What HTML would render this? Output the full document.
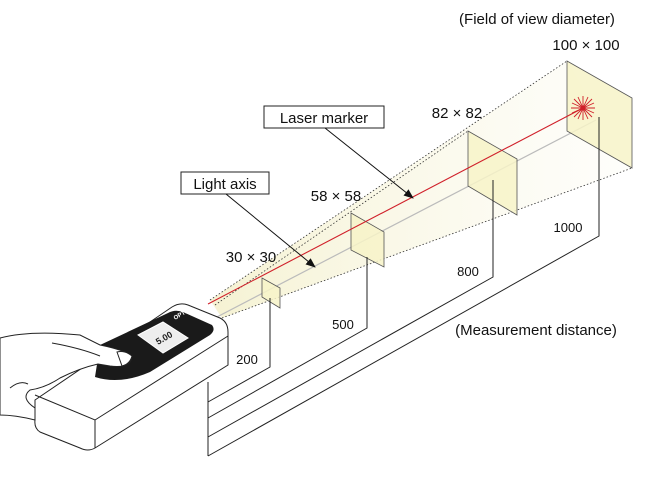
<!DOCTYPE html>
<html><head><meta charset="utf-8"><style>
html,body{margin:0;padding:0;background:#fff;}
svg{display:block;}
text{font-family:"Liberation Sans",sans-serif;fill:#111;}
</style></head><body>
<svg width="650" height="480" viewBox="0 0 650 480" xmlns="http://www.w3.org/2000/svg">
<defs>
<linearGradient id="beam" x1="0" y1="0" x2="1" y2="0">
<stop offset="0" stop-color="#f3efc8" stop-opacity="0.8"/>
<stop offset="1" stop-color="#f7f4dc" stop-opacity="0.1"/>
</linearGradient>
<marker id="ah" markerWidth="10" markerHeight="8" refX="9" refY="4" orient="auto" markerUnits="userSpaceOnUse">
<path d="M0,0 L10,4 L0,8 z" fill="#111"/>
</marker>
</defs>
<polygon points="210,300 567,61 632,168 222,318" fill="url(#beam)"/>
<g stroke="#333" stroke-width="0.8" stroke-dasharray="1.5,2" fill="none">
<line x1="210" y1="300" x2="567" y2="61"/>
<line x1="222" y1="318" x2="632" y2="168"/>
<line x1="215" y1="305" x2="468" y2="131"/>
</g>
<line x1="215" y1="318" x2="596" y2="120" stroke="#bbb" stroke-width="1.2"/>
<g fill="#f7f3c8" fill-opacity="0.85" stroke="#555" stroke-width="0.8">
<polygon points="262,278 280,288 280,308 262,297"/>
<polygon points="351,213 384,232 384,267 351,250"/>
<polygon points="468,131 517,159 517,215 468,186"/>
<polygon points="567,61 632,98 632,168 567,131"/>
</g>
<line x1="208" y1="304" x2="583" y2="108" stroke="#d0202a" stroke-width="1.1"/>
<g stroke="#d0202a" stroke-width="0.9">
<line x1="571" y1="108" x2="595" y2="108"/><line x1="583" y1="96" x2="583" y2="120"/>
<line x1="574" y1="99" x2="592" y2="117"/><line x1="574" y1="117" x2="592" y2="99"/>
<line x1="572" y1="103" x2="594" y2="113"/><line x1="572" y1="113" x2="594" y2="103"/>
<line x1="578" y1="97" x2="588" y2="119"/><line x1="588" y1="97" x2="578" y2="119"/>
</g>
<circle cx="583" cy="108" r="2.5" fill="#d0202a"/>
<g stroke="#222" stroke-width="1" fill="none">
<polyline points="270,298 270,367 208,402"/>
<polyline points="367,257 367,328 208,418"/>
<polyline points="493,180 493,277 208,437"/>
<polyline points="599,117 599,236 208,456"/>
<line x1="208" y1="382" x2="208" y2="456"/>
</g>
<rect x="264" y="106" width="120" height="22" fill="#fff" stroke="#222" stroke-width="1"/>
<text x="324" y="123" font-size="15" text-anchor="middle">Laser marker</text>
<line x1="325" y1="128" x2="413" y2="198" stroke="#111" stroke-width="1" marker-end="url(#ah)"/>
<rect x="181" y="172" width="88" height="22" fill="#fff" stroke="#222" stroke-width="1"/>
<text x="225" y="189" font-size="15" text-anchor="middle">Light axis</text>
<line x1="226" y1="194" x2="315" y2="267" stroke="#111" stroke-width="1" marker-end="url(#ah)"/>
<text x="537" y="24" font-size="15" text-anchor="middle">(Field of view diameter)</text>
<text x="586" y="50" font-size="15" text-anchor="middle">100 × 100</text>
<text x="457" y="118" font-size="15" text-anchor="middle">82 × 82</text>
<text x="336" y="201" font-size="15" text-anchor="middle">58 × 58</text>
<text x="251" y="262" font-size="15" text-anchor="middle">30 × 30</text>
<text x="568" y="232" font-size="13" text-anchor="middle">1000</text>
<text x="468" y="276" font-size="13" text-anchor="middle">800</text>
<text x="343" y="329" font-size="13" text-anchor="middle">500</text>
<text x="247" y="364" font-size="13" text-anchor="middle">200</text>
<text x="536" y="335" font-size="15" text-anchor="middle">(Measurement distance)</text>
<g stroke="#222" stroke-width="1" fill="#fff">
<path d="M35,400 L172,307 Q180,302 188,305 L220,318 Q228,322 228,332 L228,365 L95,448 Q88,452 80,448 L40,432 Q34,428 35,420 Z"/>
<path d="M35,395 L95,420 L228,336" fill="none"/>
<path d="M95,420 L95,448" fill="none"/>
</g>
<path d="M100,345 L168,313 Q175,309 183,312 L212,325 Q216,330 210,335 L150,372 Q120,385 95,377 Z" fill="#1a1a1a"/>
<polygon points="138,335 163,322 188,338 163,353" fill="#eee" stroke="#fff" stroke-width="1"/>
<text x="158" y="345" font-size="9" font-weight="bold" transform="rotate(-30 158 345)" style="fill:#222">5.00</text>
<text x="175" y="320" font-size="6" font-weight="bold" transform="rotate(-30 175 320)" style="fill:#fff">OPTEX</text>
<g stroke="#222" stroke-width="1" fill="#fff">
<path d="M0,338 Q30,330 80,335 L100,345 Q115,348 125,352 Q135,355 130,362 Q125,368 110,366 L98,364 Q80,368 60,378 Q45,388 30,390 Q20,398 35,408 L35,420 Q15,415 0,415 Z"/>
<path d="M117,352 Q125,350 132,356 Q130,364 122,366 Z" fill="#fff"/>
<path d="M52,343 Q80,348 100,356" fill="none"/>
<path d="M10,388 Q20,380 28,384" fill="none"/>
</g>
</svg>
</body></html>
